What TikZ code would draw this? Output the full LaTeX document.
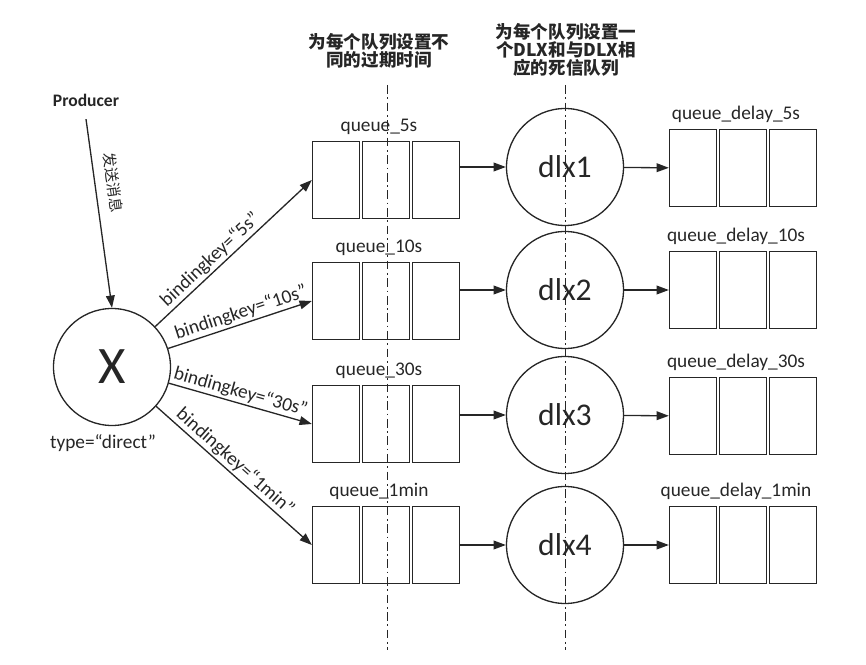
\documentclass[tikz,border=0pt]{standalone}
\usepackage{fontspec}
\setmainfont{Carlito}
\newfontfamily\cjk{Noto Sans CJK SC}
\usetikzlibrary{positioning,arrows.meta}
\tikzset{
  cell/.style  = {draw, minimum width=0.94cm, minimum height=1.54cm, inner sep=0},
  xch/.style   = {draw, circle, minimum size=2.34cm, inner sep=0},
  qlbl/.style  = {inner sep=1pt},
  key/.style   = {sloped, above, inner sep=1pt},
  arr/.style   = {-{Triangle[length=7pt,width=5pt]}},
  split/.style = {line width=0.5pt, dash pattern=on 5pt off 2pt on 1pt off 2pt},
  head/.style  = {font=\cjk\bfseries\fontsize{10}{10.2}\selectfont, align=center}
}

\begin{document}
\begin{tikzpicture}[x=0.02cm, y=-0.02cm, line width=0.75pt, color=black!85,
    font=\fontsize{11}{13}\selectfont]
\useasboundingbox (0,0) rectangle (866,665);

% phase separators
\draw[split] (387,85) -- (387,650);
\draw[split] (565,85) -- (565,650);

\node[head] (h1) at (379,51) {为每个队列设置不\\同的过期时间};
\node[head] (h2) at (566,50) {为每个队列设置一\\个DLX和与DLX相\\应的死信队列};

\node[font=\bfseries, outer sep=4pt] (prod) at (86,100) {Producer};
\node[xch, font=\fontsize{30}{30}\selectfont] (x) at (112,367) {X};
\node (type) at (103,443) {type=“direct”};
\draw[arr] (prod.south) -- node[sloped, above, pos=0.35, inner sep=6pt,
  font=\cjk\fontsize{8.5}{8.5}\selectfont] {发送消息} (x.north);

% one row per delay
\foreach \i/\qy/\dy/\ry/\tm/\p in {1/180/167/168/5s/0.4, 2/301/290/290/10s/0.53,
    3/424/415/416/30s/0.48, 4/545/545/545/1min/0.46} {
  \foreach \k/\kx in {a/336,b/386,c/436} \node[cell] (q\i\k) at (\kx,\qy) {};
  \foreach \k/\kx in {a/693,b/743,c/793} \node[cell] (r\i\k) at (\kx,\ry) {};
  \node[qlbl, above=2pt of q\i b.north, xshift=-4pt] (ql\i) {queue\_\tm};
  \node[qlbl, above=2pt of r\i b.north, xshift=-4pt] (rl\i) {queue\_delay\_\tm};
  \node[xch, font=\fontsize{18}{18}\selectfont] (d\i) at (565,\dy) {dlx\i};
  \draw[arr] (x) -- node[key, pos=\p] {bindingkey=“\tm”} (q\i a.west);
  \draw[arr] (d\i -| q\i c.east) -- (d\i);
  \draw[arr] (d\i) -- (r\i a);
}
\end{tikzpicture}
\end{document}
